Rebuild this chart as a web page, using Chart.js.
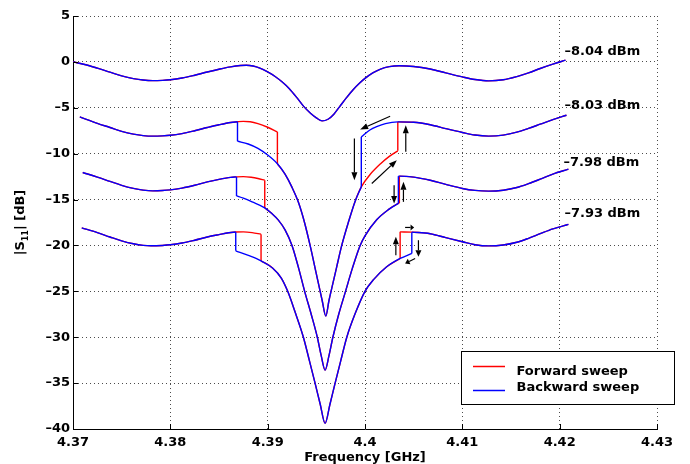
<!DOCTYPE html>
<html>
<head>
<meta charset="utf-8">
<script src="https://cdn.jsdelivr.net/npm/chart.js@4.4.1/dist/chart.umd.min.js"></script>
<style>
html,body{margin:0;padding:0;background:#ffffff;}
canvas{display:block;}
</style>
</head>
<body>
<canvas id="chart" width="690" height="464"></canvas>
<script>
// ---------- axis ticks ----------
const xTickVals = [4.37, 4.38, 4.39, 4.40, 4.41, 4.42, 4.43];
const yTickVals = [5, 0, -5, -10, -15, -20, -25, -30, -35, -40];

// ---------- curve 1 : -8.04 dBm (no hysteresis) ----------
const freq1 = [4.3700, 4.3712, 4.3725, 4.3738, 4.3750, 4.3762, 4.3772, 4.3782, 4.3792, 4.3800, 4.3812, 4.3825, 4.3838, 4.3850, 4.3862, 4.3872, 4.3878, 4.3885, 4.3892, 4.3900, 4.3908, 4.3915, 4.3922, 4.3930, 4.3937, 4.3944, 4.3950, 4.3956, 4.3962, 4.3968, 4.3974, 4.3981, 4.3988, 4.3994, 4.4000, 4.4008, 4.4016, 4.4025, 4.4035, 4.4050, 4.4067, 4.4083, 4.4100, 4.4113, 4.4127, 4.4142, 4.4156, 4.4168, 4.4180, 4.4193, 4.4206];
const s11_1 = [0.00, -0.28, -0.68, -1.12, -1.52, -1.82, -1.98, -2.04, -2.01, -1.95, -1.76, -1.45, -1.10, -0.80, -0.54, -0.40, -0.37, -0.45, -0.68, -1.10, -1.62, -2.20, -2.90, -3.90, -4.85, -5.60, -6.10, -6.43, -6.25, -5.70, -4.87, -3.90, -3.00, -2.35, -1.80, -1.20, -0.78, -0.52, -0.42, -0.50, -0.78, -1.20, -1.64, -1.92, -2.07, -1.95, -1.60, -1.20, -0.72, -0.25, 0.19];

// ---------- curve 2 : -8.03 dBm ----------
const freq2UL = [4.3707, 4.3725, 4.3738, 4.3750, 4.3762, 4.3772, 4.3782, 4.3792, 4.3800, 4.3812, 4.3825, 4.3838, 4.3850, 4.3862, 4.3869, 4.3875, 4.3882, 4.3890, 4.3900, 4.3910];
const s11_2UL = [-6.00, -6.70, -7.15, -7.57, -7.87, -8.03, -8.09, -8.06, -8.00, -7.81, -7.50, -7.15, -6.85, -6.60, -6.52, -6.48, -6.52, -6.72, -7.12, -7.63];
const freq2Lo = [4.3869, 4.3880, 4.3890, 4.3900, 4.3910, 4.3918, 4.39248, 4.39316, 4.3938, 4.39436, 4.3950, 4.3956, 4.39597, 4.3963, 4.3966, 4.3971, 4.39761, 4.3983, 4.39898, 4.39962, 4.4005, 4.4016, 4.4025, 4.40337];
const s11_2Lo = [-8.64, -8.95, -9.43, -10.15, -11.10, -12.25, -13.62, -15.30, -17.55, -20.00, -23.10, -26.00, -27.70, -26.00, -24.60, -22.30, -20.00, -17.45, -15.20, -13.62, -12.30, -11.10, -10.30, -9.69];
const freq2UR = [4.39962, 4.4005, 4.4012, 4.4021, 4.40337, 4.4050, 4.4067, 4.4083, 4.4100, 4.4113, 4.4127, 4.4142, 4.4156, 4.4168, 4.4180, 4.4193, 4.4207];
const s11_2UR = [-8.17, -7.42, -7.05, -6.72, -6.54, -6.58, -6.85, -7.27, -7.69, -7.97, -8.09, -7.98, -7.66, -7.24, -6.79, -6.30, -5.81];
const fwdJumps2 = [4.3910, 4.40337];
const bwdJumps2 = [4.3869, 4.39962];

// ---------- curve 3 : -7.98 dBm ----------
const freq3UL = [4.3710, 4.3725, 4.3738, 4.3750, 4.3762, 4.3772, 4.3782, 4.3792, 4.3800, 4.3812, 4.3825, 4.3838, 4.3850, 4.3862, 4.3868, 4.3875, 4.3883, 4.3890, 4.3897];
const s11_3UL = [-12.05, -12.55, -13.02, -13.45, -13.78, -13.97, -14.05, -14.02, -13.95, -13.75, -13.44, -13.08, -12.80, -12.58, -12.53, -12.50, -12.57, -12.70, -12.89];
const freq3Lo = [4.3868, 4.3875, 4.3884, 4.3897, 4.3904, 4.3911, 4.3918, 4.3925, 4.3932, 4.3938, 4.3945, 4.3951, 4.3955, 4.3959, 4.3963, 4.3967, 4.3973, 4.3980, 4.3987, 4.3995, 4.4000, 4.4012, 4.4024, 4.40343, 4.40353];
const s11_3Lo = [-14.60, -14.85, -15.25, -15.90, -16.50, -17.24, -18.33, -20.00, -22.55, -25.00, -27.60, -30.00, -32.00, -33.58, -32.00, -30.00, -27.50, -25.00, -22.50, -20.00, -18.95, -17.20, -16.10, -15.42, -15.38];
const freq3UR = [4.40343, 4.40353, 4.4050, 4.4067, 4.4083, 4.4100, 4.4113, 4.4127, 4.4142, 4.4156, 4.4168, 4.4180, 4.4193, 4.4209];
const s11_3UR = [-12.45, -12.45, -12.55, -12.90, -13.35, -13.79, -14.00, -14.08, -13.98, -13.69, -13.27, -12.78, -12.22, -11.69];
const fwdJumps3 = [4.3897, 4.40353];
const bwdJumps3 = [4.3868, 4.40343];

// ---------- curve 4 : -7.93 dBm ----------
const freq4UL = [4.3709, 4.3725, 4.3738, 4.3750, 4.3762, 4.3772, 4.3780, 4.3792, 4.3800, 4.3812, 4.3825, 4.3838, 4.3850, 4.3860, 4.38672, 4.3875, 4.3884, 4.38932];
const s11_4UL = [-18.08, -18.60, -19.08, -19.50, -19.82, -19.99, -20.04, -20.00, -19.93, -19.74, -19.43, -19.08, -18.82, -18.62, -18.53, -18.52, -18.60, -18.77];
const freq4Lo = [4.38672, 4.38802, 4.38932, 4.3905, 4.3914, 4.39206, 4.3928, 4.39367, 4.3943, 4.39487, 4.3954, 4.3959, 4.3964, 4.39693, 4.3975, 4.39813, 4.3990, 4.4000, 4.4009, 4.4022, 4.40361, 4.40481];
const s11_4Lo = [-20.59, -21.09, -21.68, -22.45, -23.55, -25.00, -27.20, -30.00, -32.60, -35.00, -37.30, -39.39, -37.30, -35.00, -32.60, -30.00, -27.40, -25.00, -23.70, -22.35, -21.42, -20.87];
const freq4UR = [4.40361, 4.40481, 4.4067, 4.4083, 4.4100, 4.4113, 4.4127, 4.4142, 4.4156, 4.4168, 4.4180, 4.4193, 4.4209];
const s11_4UR = [-18.52, -18.55, -18.72, -19.15, -19.60, -19.92, -20.05, -19.95, -19.65, -19.22, -18.72, -18.20, -17.70];
const fwdJumps4 = [4.38932, 4.40361];
const bwdJumps4 = [4.38672, 4.40481];

// ---------- text annotations ----------
const powerLabels = ['\u20138.04 dBm', '\u20138.03 dBm', '\u20137.98 dBm', '\u20137.93 dBm'];
const powerLabelFreq = [4.42049, 4.42049, 4.42039, 4.42049];
const powerLabelDb = [0.78, -5.08, -11.36, -16.95];

// ---------- sweep-direction arrows (data units) ----------
const arrowF0 = [4.40258, 4.39891, 4.40419, 4.40070, 4.40299, 4.40395, 4.40412, 4.40317, 4.40549, 4.40515];
const arrowD0 = [-5.92, -8.34, -9.80, -13.25, -13.43, -15.25, -18.04, -21.06, -19.43, -21.42];
const arrowF1 = [4.39950, 4.39891, 4.40419, 4.40327, 4.40299, 4.40395, 4.40505, 4.40317, 4.40549, 4.40412];
const arrowD1 = [-7.36, -12.89, -6.90, -10.71, -15.42, -13.07, -18.04, -19.06, -21.24, -21.96];

const legendNames = ['Forward sweep', 'Backward sweep'];

// ---------- build datasets ----------
const RED = 'rgb(255,0,0)';
const BLUE = 'rgb(0,0,255)';
const LW = 1.4;

function pick(fs, vs, lo, hi) {
  const out = [];
  for (let i = 0; i < fs.length; i++) {
    if (fs[i] >= lo - 1e-9 && fs[i] <= hi + 1e-9) out.push({x: fs[i], y: vs[i]});
  }
  return out;
}
const datasets = [];
function smoothSet(pts, color, order) {
  datasets.push({data: pts, borderColor: color, borderWidth: LW, pointRadius: 0,
    tension: 0.4, cubicInterpolationMode: 'monotone', fill: false, order: order});
}
function jumpSet(p, q, color, order) {
  datasets.push({data: [p, q], borderColor: color, borderWidth: LW, pointRadius: 0,
    tension: 0, cubicInterpolationMode: 'default', fill: false, order: order});
}
function addPath(fUL, vUL, fLo, vLo, fUR, vUR, jumps, color, order) {
  const a = pick(fUL, vUL, -Infinity, jumps[0]);
  const b = pick(fLo, vLo, jumps[0], jumps[1]);
  const c = pick(fUR, vUR, jumps[1], Infinity);
  smoothSet(a, color, order);
  smoothSet(b, color, order);
  smoothSet(c, color, order);
  jumpSet(a[a.length - 1], b[0], color, order);
  jumpSet(b[b.length - 1], c[0], color, order);
}
// forward (red, underneath)
smoothSet(pick(freq1, s11_1, -Infinity, Infinity), RED, 2);
addPath(freq2UL, s11_2UL, freq2Lo, s11_2Lo, freq2UR, s11_2UR, fwdJumps2, RED, 2);
addPath(freq3UL, s11_3UL, freq3Lo, s11_3Lo, freq3UR, s11_3UR, fwdJumps3, RED, 2);
addPath(freq4UL, s11_4UL, freq4Lo, s11_4Lo, freq4UR, s11_4UR, fwdJumps4, RED, 2);
// backward (blue, on top)
smoothSet(pick(freq1, s11_1, -Infinity, Infinity), BLUE, 1);
addPath(freq2UL, s11_2UL, freq2Lo, s11_2Lo, freq2UR, s11_2UR, bwdJumps2, BLUE, 1);
addPath(freq3UL, s11_3UL, freq3Lo, s11_3Lo, freq3UR, s11_3UR, bwdJumps3, BLUE, 1);
addPath(freq4UL, s11_4UL, freq4Lo, s11_4Lo, freq4UR, s11_4UR, bwdJumps4, BLUE, 1);

// ---------- decoration plugin ----------
const FONT = "bold 13px 'DejaVu Sans', sans-serif";
function drawArrow(ctx, x0, y0, x1, y1) {
  const dx = x1 - x0, dy = y1 - y0, L = Math.hypot(dx, dy);
  const ux = dx / L, uy = dy / L;
  const hl = Math.min(8, 0.4 * L), hw = 3;
  const bx = x1 - ux * hl, by = y1 - uy * hl;
  ctx.beginPath(); ctx.moveTo(x0, y0); ctx.lineTo(bx, by); ctx.stroke();
  ctx.beginPath(); ctx.moveTo(x1, y1);
  ctx.lineTo(bx - uy * hw, by + ux * hw);
  ctx.lineTo(bx + uy * hw, by - ux * hw);
  ctx.closePath(); ctx.fill();
}
const decor = {
  id: 'decor',
  afterDatasetsDraw(chart) {
    const ctx = chart.ctx, xs = chart.scales.x, ys = chart.scales.y, ca = chart.chartArea;
    ctx.save();
    ctx.strokeStyle = '#000'; ctx.lineWidth = 1;
    xTickVals.forEach(v => {
      const px = Math.round(xs.getPixelForValue(v)) + 0.5;
      ctx.beginPath(); ctx.moveTo(px, ca.bottom); ctx.lineTo(px, ca.bottom - 5); ctx.stroke();
    });
    yTickVals.forEach(v => {
      const py = Math.round(ys.getPixelForValue(v)) + 0.5;
      ctx.beginPath(); ctx.moveTo(ca.left, py); ctx.lineTo(ca.left + 5, py); ctx.stroke();
    });
    ctx.strokeStyle = '#000'; ctx.fillStyle = '#000'; ctx.lineWidth = 1.2;
    for (let i = 0; i < arrowF0.length; i++) {
      drawArrow(ctx, xs.getPixelForValue(arrowF0[i]), ys.getPixelForValue(arrowD0[i]),
                     xs.getPixelForValue(arrowF1[i]), ys.getPixelForValue(arrowD1[i]));
    }
    ctx.font = FONT; ctx.fillStyle = '#000'; ctx.textAlign = 'left'; ctx.textBaseline = 'alphabetic';
    for (let i = 0; i < powerLabels.length; i++) {
      ctx.fillText(powerLabels[i], xs.getPixelForValue(powerLabelFreq[i]), ys.getPixelForValue(powerLabelDb[i]));
    }
    ctx.restore();
  },
  afterDraw(chart) {
    const ctx = chart.ctx, ca = chart.chartArea;
    ctx.save();
    ctx.font = FONT; ctx.fillStyle = '#000'; ctx.textAlign = 'center'; ctx.textBaseline = 'alphabetic';
    ctx.fillText('Frequency [GHz]', (ca.left + ca.right) / 2, 460.5);
    ctx.save();
    ctx.translate(24, (ca.top + ca.bottom) / 2);
    ctx.rotate(-Math.PI / 2);
    ctx.textAlign = 'left';
    const subFont = "bold 8px 'DejaVu Sans', sans-serif";
    ctx.font = FONT; const w1 = ctx.measureText('|S').width; const w3 = ctx.measureText('| [dB]').width;
    ctx.font = subFont; const w2 = ctx.measureText('11').width;
    let xx = -(w1 + w2 + w3) / 2;
    ctx.font = FONT; ctx.fillText('|S', xx, 0); xx += w1;
    ctx.font = subFont; ctx.fillText('11', xx, 4); xx += w2;
    ctx.font = FONT; ctx.fillText('| [dB]', xx, 0);
    ctx.restore();
    const lx = 461.5, ly = 351.5, lw = 213, lh = 53;
    ctx.fillStyle = '#fff'; ctx.fillRect(lx, ly, lw, lh);
    ctx.strokeStyle = '#000'; ctx.lineWidth = 1; ctx.strokeRect(lx, ly, lw, lh);
    ctx.lineWidth = 1.5;
    ctx.strokeStyle = RED; ctx.beginPath(); ctx.moveTo(473, 366.5); ctx.lineTo(505, 366.5); ctx.stroke();
    ctx.strokeStyle = BLUE; ctx.beginPath(); ctx.moveTo(473, 390.5); ctx.lineTo(505, 390.5); ctx.stroke();
    ctx.fillStyle = '#000'; ctx.font = FONT; ctx.textAlign = 'left'; ctx.textBaseline = 'alphabetic';
    ctx.fillText(legendNames[0], 516.5, 375);
    ctx.fillText(legendNames[1], 516.5, 391);
    ctx.restore();
  }
};

Chart.defaults.font.family = "'DejaVu Sans', sans-serif";
Chart.defaults.font.size = 13;
Chart.defaults.font.weight = 'bold';
Chart.defaults.color = '#000';

const gridOpts = {drawTicks: false, color: 'rgba(0,0,0,0.7)', lineWidth: 1};
const borderOpts = {display: true, color: '#000', width: 1, dash: [1, 3]};

new Chart(document.getElementById('chart'), {
  type: 'line',
  data: {datasets: datasets},
  options: {
    responsive: false,
    animation: false,
    devicePixelRatio: 1,
    layout: {padding: {top: 16, right: 33, left: 0, bottom: 0}},
    plugins: {legend: {display: false}, tooltip: {enabled: false}},
    elements: {point: {radius: 0}},
    scales: {
      x: {
        type: 'linear', min: 4.37, max: 4.43,
        afterFit(s) { s.height = 35; },
        afterBuildTicks(s) { s.ticks = xTickVals.map(v => ({value: v})); },
        ticks: {padding: 6, autoSkip: false, maxRotation: 0,
                callback: v => String(+Number(v).toFixed(2))},
        grid: gridOpts, border: borderOpts
      },
      y: {
        type: 'linear', min: -40, max: 5,
        afterFit(s) { s.width = 73; },
        afterBuildTicks(s) { s.ticks = yTickVals.map(v => ({value: v})); },
        ticks: {padding: 3, autoSkip: false,
                callback: v => String(v).replace('-', '\u2013')},
        grid: gridOpts, border: borderOpts
      }
    }
  },
  plugins: [decor]
});
</script>
</body>
</html>
